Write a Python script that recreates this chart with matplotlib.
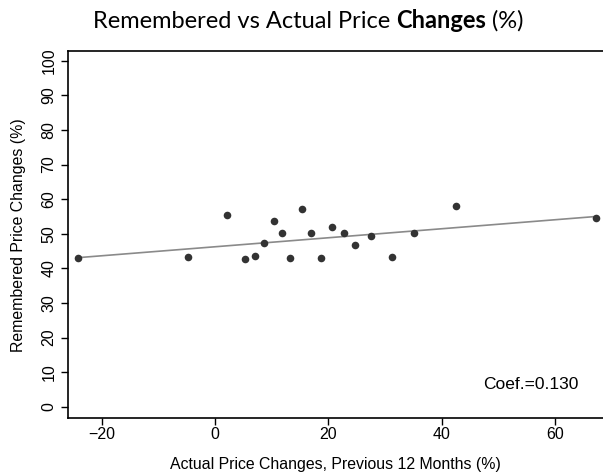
import numpy as np
import matplotlib
matplotlib.use('Agg')
import matplotlib.pyplot as plt

# actual vs remembered price changes (%)
actual = [-24.2, -4.7, 2.1, 5.3, 7.1, 8.6, 10.4, 11.8, 13.3, 15.3,
          16.9, 18.8, 20.7, 22.8, 24.8, 27.6, 31.2, 35.1, 42.6, 67.2]
remembered = [43.1, 43.4, 55.5, 42.8, 43.5, 47.4, 53.8, 50.1, 43.1, 57.1,
              50.1, 42.9, 52.1, 50.1, 46.9, 49.4, 43.2, 50.1, 57.9, 54.6]
coef = 0.130
intercept = 46.25
x_ticks = [-20, 0, 20, 40, 60]
y_ticks = list(range(0, 101, 10))
title_parts = [('Remembered vs Actual Price ', 'normal'),
               ('Changes', 'bold'),
               (' (%)', 'normal')]

plt.rcParams['font.family'] = ['Liberation Sans', 'DejaVu Sans']

fig = plt.figure(figsize=(6.03, 4.75), dpi=100)
ax = fig.add_axes([68.3 / 603, 1 - 418 / 475, 1 - 68.3 / 603, (418 - 51.3) / 475])

ax.scatter(actual, remembered, s=30, color='#333333', zorder=3, linewidths=0)
xs = np.array([min(actual), max(actual)])
ax.plot(xs, intercept + coef * xs, color='#8a8a8a', lw=1.2, zorder=2)

ax.set_xlim(-25.9, 68.5)
ax.set_ylim(-3.2, 102.7)
ax.set_xticks(x_ticks)
ax.set_xticklabels(['\u221220', '0', '20', '40', '60'])
ax.set_yticks(y_ticks)
ax.tick_params(axis='both', direction='out', length=5, width=1, labelsize=11.5, colors='black')
ax.tick_params(axis='x', pad=1.5)
for lab in ax.get_yticklabels():
    lab.set_rotation(90)
    lab.set_va('center')
ax.spines['right'].set_visible(False)
for s in ['left', 'bottom', 'top']:
    ax.spines[s].set_linewidth(1.2)

ax.set_xlabel('Actual Price Changes, Previous 12 Months (%)', fontsize=11.4, labelpad=11)
ax.set_ylabel('Remembered Price Changes (%)', fontsize=11.4, labelpad=11)
ax.text(55.8, 6.5, 'Coef.=%.3f' % coef, fontsize=12.5, ha='center', va='center')

# title in pieces so one word can be bold
renderer = fig.canvas.get_renderer()
texts = []
for s, w in title_parts:
    texts.append(fig.text(0, 1 - 21 / 475, s, fontsize=17, family='Lato',
                          weight=w, ha='left', va='center'))
widths = [t.get_window_extent(renderer).width for t in texts]
x0 = 308 - sum(widths) / 2
for t, w in zip(texts, widths):
    t.set_x(x0 / 603)
    x0 += w

plt.savefig('out.png', dpi=100)
